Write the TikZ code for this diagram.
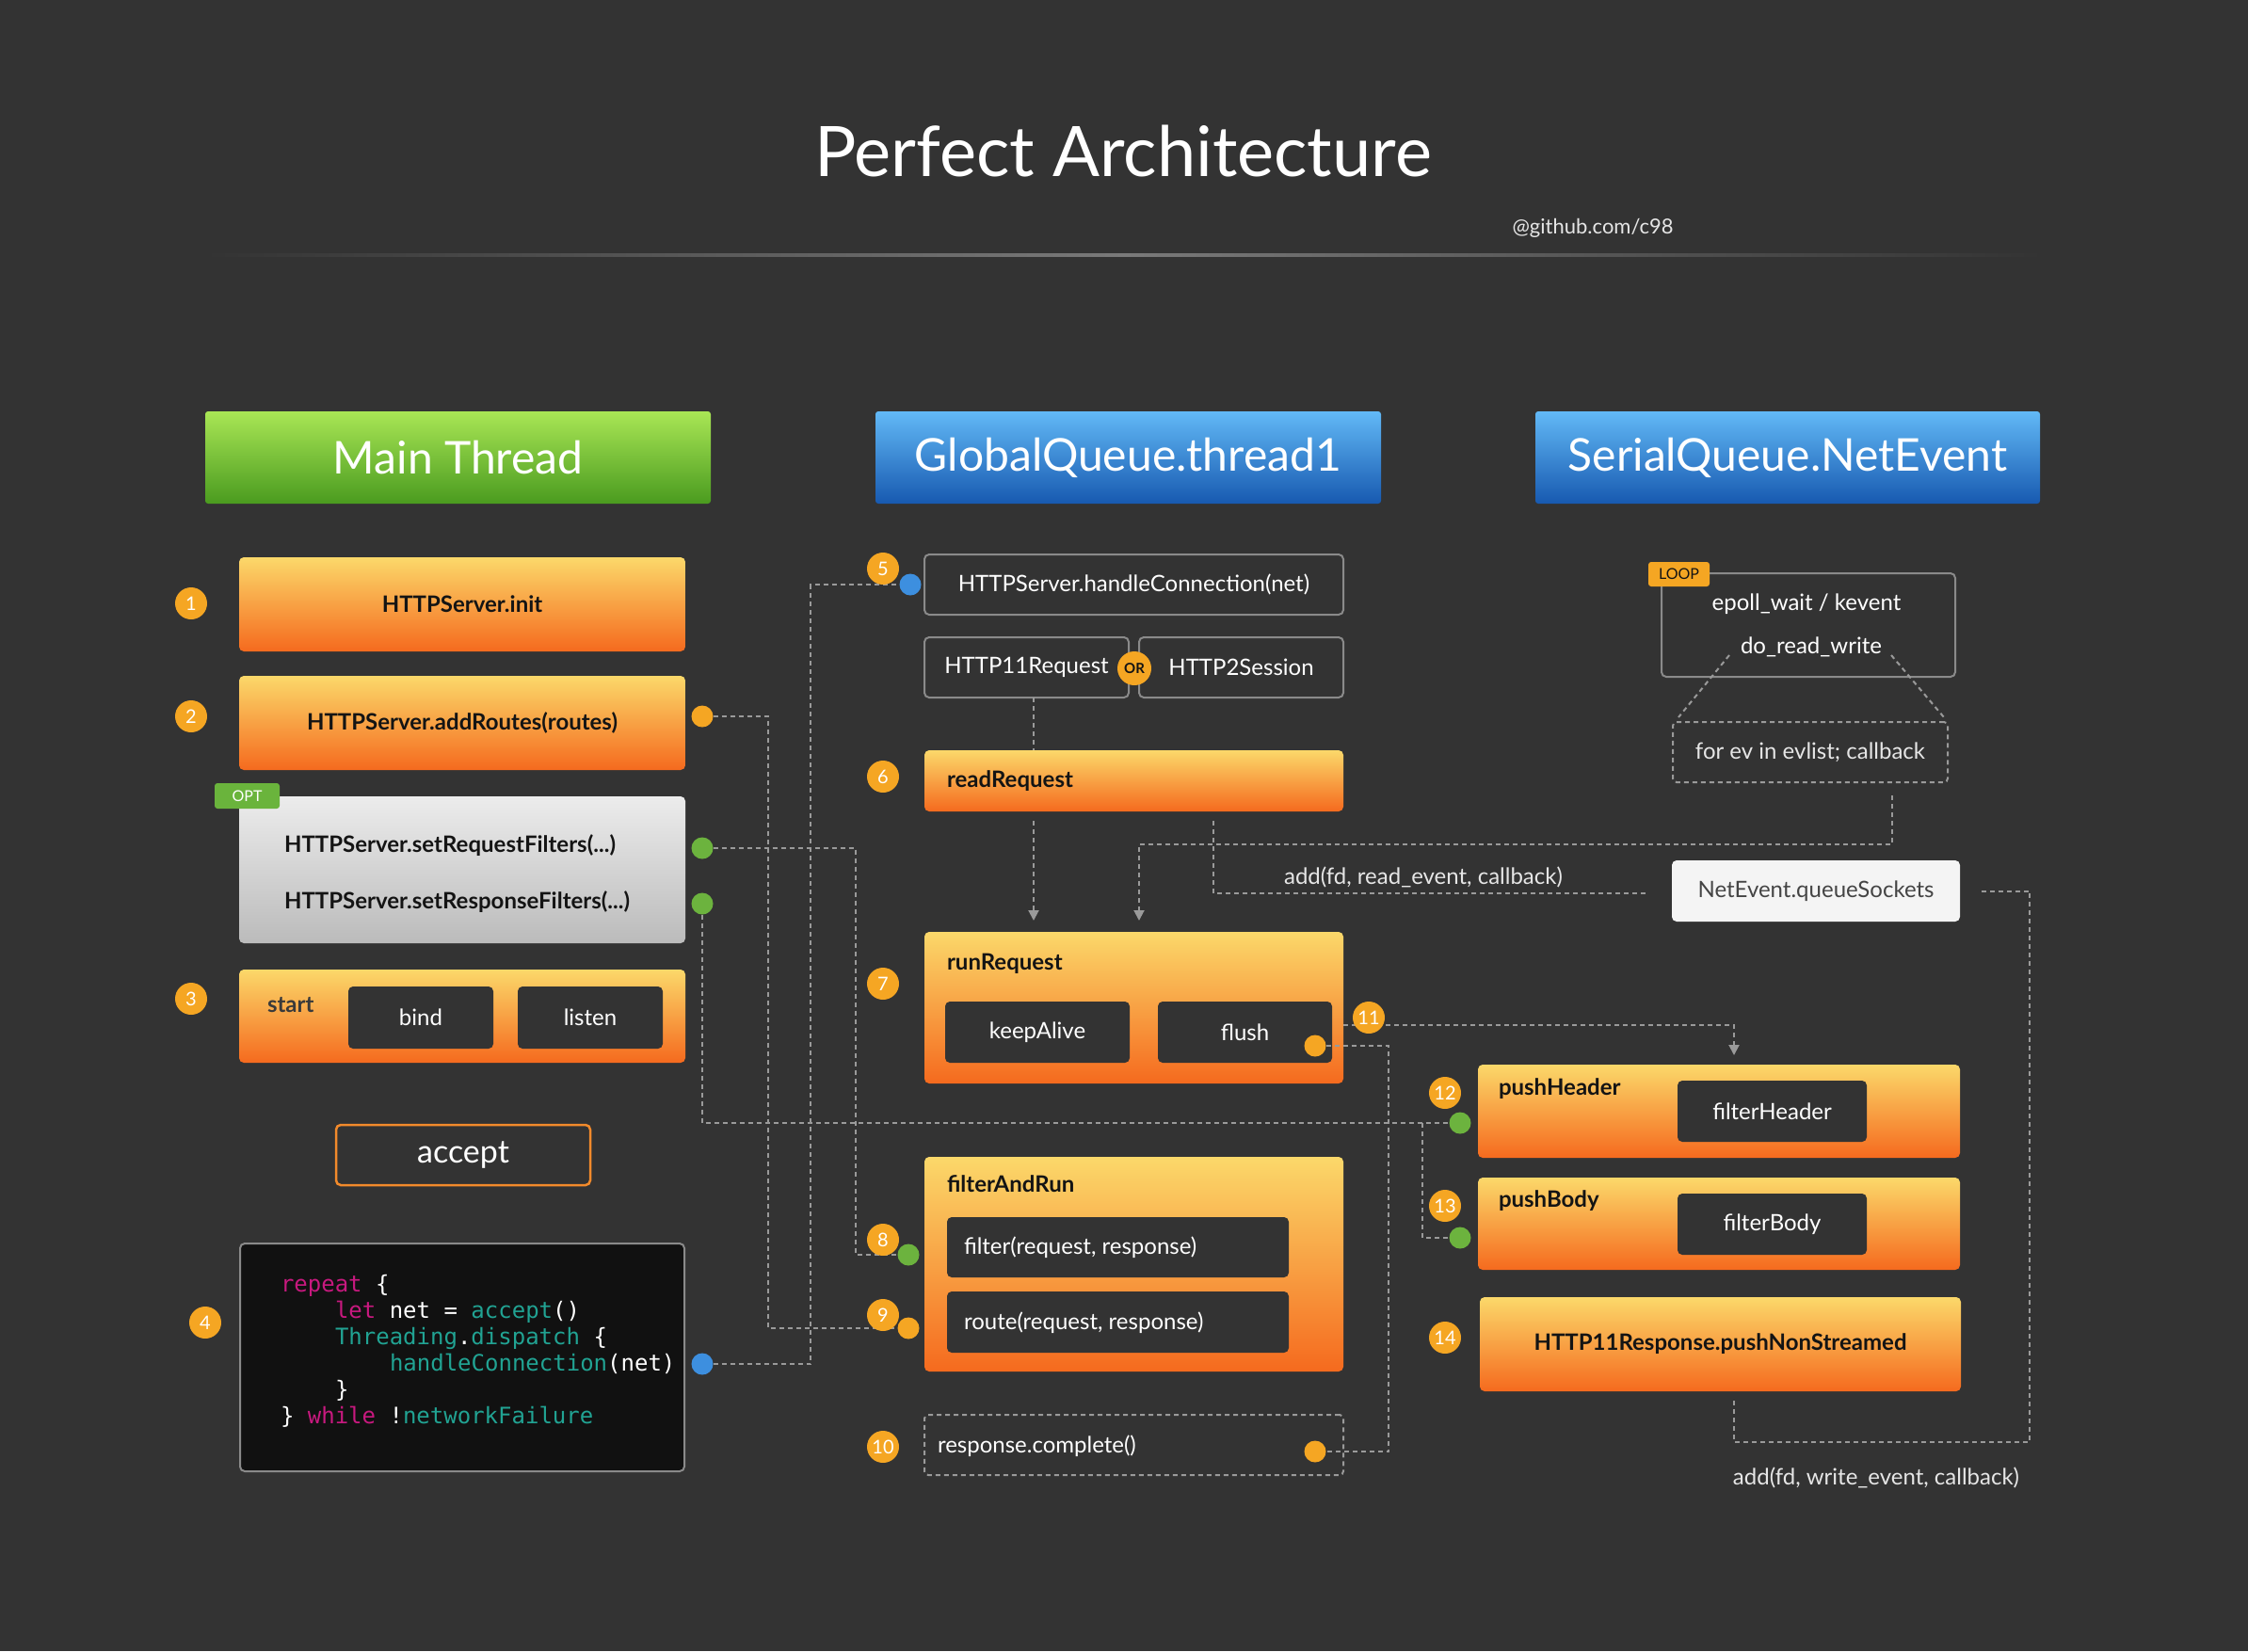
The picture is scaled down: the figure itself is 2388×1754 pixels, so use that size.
\documentclass[tikz,border=0pt]{standalone}
\usepackage{fontspec}
\setmainfont{Lato}
\newfontfamily\codefont{DejaVu Sans Mono}
\usetikzlibrary{arrows.meta,fit}
\definecolor{bgc}{HTML}{333333}
\definecolor{oTop}{HTML}{FBD86A}
\definecolor{oBot}{HTML}{F56A1E}
\definecolor{gTop}{HTML}{ECECEC}
\definecolor{gBot}{HTML}{BBBBBB}
\definecolor{hgTop}{HTML}{A9E655}
\definecolor{hgBot}{HTML}{4A9B1F}
\definecolor{hbTop}{HTML}{62B9F6}
\definecolor{hbBot}{HTML}{1759B0}
\definecolor{bdg}{HTML}{F5A623}
\definecolor{optg}{HTML}{6AB43C}
\definecolor{dsh}{HTML}{9A9A9A}
\definecolor{outl}{HTML}{8A8A8A}
\definecolor{txtd}{HTML}{141414}
\definecolor{startc}{HTML}{3A3A3A}
\definecolor{acc}{HTML}{F28A2B}
\definecolor{codebg}{HTML}{111111}
\definecolor{kw}{HTML}{C8197F}
\definecolor{fn}{HTML}{21A393}
\definecolor{qfill}{HTML}{F4F4F4}
\definecolor{qtxt}{HTML}{444444}
\definecolor{dblue}{HTML}{3D8FDF}
\definecolor{dgreen}{HTML}{6CB33E}
\definecolor{lightt}{HTML}{E6E6E6}
\definecolor{lineg}{HTML}{7A7A7A}
\pgfdeclarelayer{bgl}
\pgfdeclarelayer{lines}
\pgfdeclarelayer{top}
\pgfsetlayers{bgl,main,lines,top}
\newcommand\fsz[1]{\fontsize{#1}{#1}\selectfont}
\tikzset{
  every node/.style={inner sep=0pt, outer sep=0pt},
  obox/.style={rounded corners=5pt, top color=oTop, bottom color=oBot, draw=none},
  dbox/.style={rounded corners=5pt, fill=bgc},
  gbox/.style={rounded corners=5pt, draw=outl, line width=2pt},
  hdrg/.style={rounded corners=3pt, top color=hgTop, bottom color=hgBot},
  hdrb/.style={rounded corners=3pt, top color=hbTop, bottom color=hbBot},
  htxt/.style={font=\fsz{48}, text=white},
  badge/.style={circle, fill=bdg, minimum size=34pt, text=white, font=\fsz{20}},
  dot/.style={circle, minimum size=23pt},
  dl/.style={draw=dsh, line width=2pt, dash pattern=on 5pt off 4pt},
  arr/.style={-{Triangle[width=11pt,length=11pt]}},
  lbl/.style={font=\fsz{24}, text=white},
  blbl/.style={font=\fsz{24}\bfseries, text=txtd},
  code/.style={font=\codefont\fsz{24}, text=white, anchor=base west},
}
\begin{document}
\begin{tikzpicture}[x=1pt,y=-1pt]
\useasboundingbox (0,0) rectangle (2388,1754);
\begin{pgfonlayer}{bgl}
\fill[bgc] (0,0) rectangle (2388,1754);
\end{pgfonlayer}

% title
\node[font=\fsz{74}, text=white] (title) at (1193,161) {Perfect Architecture};
\node[font=\fsz{22}, text=lightt] (gh) at (1692,242) {@github.com/c98};
\shade[left color=bgc, right color=bgc, middle color=lineg] (218,269.5) rectangle (2170,272.5);

% headers
\node[hdrg, fit={(218,437)(755,535)}] (hMain) {};
\node[htxt] (hMainT) at (hMain.center) {Main Thread};
\node[hdrb, fit={(930,437)(1467,535)}] (hGlobal) {};
\node[htxt] (hGlobalT) at (hGlobal.center) {GlobalQueue.thread1};
\node[hdrb, fit={(1631,437)(2167,535)}] (hSerial) {};
\node[htxt] (hSerialT) at (hSerial.center) {SerialQueue.NetEvent};

% main thread column
\node[obox, fit={(254,592)(728,692)}] (n1) {};
\node[blbl] (n1t) at (n1.center) {HTTPServer.init};
\node[obox, fit={(254,718)(728,818)}] (n2) {};
\node[blbl] (n2t) at (n2.center) {HTTPServer.addRoutes(routes)};
\node[rounded corners=5pt, top color=gTop, bottom color=gBot, fit={(254,846)(728,1002)}] (nf) {};
\node[blbl, anchor=west] (treq) at (302,898) {HTTPServer.setRequestFilters(...)};
\node[blbl, anchor=west] (tresp) at (302,958) {HTTPServer.setResponseFilters(...)};
\node[fill=optg, rounded corners=3pt, fit={(228,832)(297,859)}] (opt) {};
\node[font=\fsz{16}, text=white] (optt) at (opt.center) {OPT};
\node[obox, fit={(254,1030)(728,1129)}] (n3) {};
\node[blbl, text=startc, anchor=west] (tstart) at (284,1068) {start};
\node[dbox, fit={(370,1048)(524,1114)}] (bind) {};
\node[lbl] (bindt) at (bind.center) {bind};
\node[dbox, fit={(550,1048)(704,1114)}] (listen) {};
\node[lbl] (listent) at (listen.center) {listen};
\node[draw=acc, line width=2.5pt, fill=bgc, rounded corners=5pt, fit={(357,1195)(627,1259)}] (acc) {};
\node[font=\fsz{34}, text=white] (acct) at (acc.center) {accept};
\node[fill=codebg, draw=outl, line width=2pt, rounded corners=5pt, fit={(255,1321)(727,1563)}] (code) {};
\node[code] (c1) at (298,1372) {\textcolor{kw}{repeat} \{};
\node[code] (c2) at (356,1400) {\textcolor{kw}{let} net = \textcolor{fn}{accept}()};
\node[code] (c3) at (356,1428) {\textcolor{fn}{Threading}.\textcolor{fn}{dispatch} \{};
\node[code] (c4) at (414,1456) {\textcolor{fn}{handleConnection}(net)};
\node[code] (c5) at (356,1484) {\}};
\node[code] (c6) at (298,1512) {\} \textcolor{kw}{while} !\textcolor{fn}{networkFailure}};

% global queue column
\node[gbox, fit={(982,589)(1427,653)}] (n5) {};
\node[lbl] (n5t) at (n5.center) {HTTPServer.handleConnection(net)};
\node[gbox, fit={(982,677)(1199,741)}] (n6a) {};
\node[lbl] (n6at) at (n6a.center) {HTTP11Request};
\node[gbox, fit={(1210,677)(1427,741)}] (n6b) {};
\node[lbl] (n6bt) at (n6b.center) {HTTP2Session};
\node[obox, fit={(982,797)(1427,862)}] (n7) {};
\node[blbl, anchor=west] (t7) at (1006,830) {readRequest};
\node[obox, fit={(982,990)(1427,1151)}] (n8) {};
\node[blbl, anchor=west] (t8) at (1006,1024) {runRequest};
\node[dbox, fit={(1004,1064)(1200,1129)}] (keep) {};
\node[lbl] (keept) at (keep.center) {keepAlive};
\node[dbox, fit={(1230,1064)(1415,1129)}] (flush) {};
\node[lbl] (flusht) at (flush.center) {flush};
\node[obox, fit={(982,1229)(1427,1457)}] (n9) {};
\node[blbl, anchor=west] (t9) at (1006,1258) {filterAndRun};
\node[dbox, fit={(1006,1293)(1369,1357)}] (filt) {};
\node[lbl, anchor=west] (tfilt) at (1024,1325) {filter(request, response)};
\node[dbox, fit={(1006,1372)(1369,1437)}] (route) {};
\node[lbl, anchor=west] (troute) at (1024,1405) {route(request, response)};
\node[draw=dsh, line width=2pt, dash pattern=on 5pt off 4pt, rounded corners=4pt, fit={(982,1503)(1427,1567)}] (n10) {};
\node[lbl, anchor=west] (t10) at (996,1536) {response.complete()};

% serial queue column
\node[gbox, fit={(1765,609)(2077,719)}] (loop) {};
\node[lbl] (ep) at (1919,642) {epoll\_wait / kevent};
\node[lbl] (drw) at (1924,687) {do\_read\_write};
\node[fill=bdg, rounded corners=3pt, fit={(1751,597)(1816,623)}] (looptag) {};
\node[font=\fsz{16}, text=txtd] (looptagt) at (looptag.center) {LOOP};
\node[draw=dsh, line width=2pt, dash pattern=on 5pt off 4pt, rounded corners=4pt, fit={(1777,767)(2069,831)}] (forev) {};
\node[font=\fsz{24}, text=lightt] (forevt) at (forev.center) {for ev in evlist; callback};
\node[fill=qfill, rounded corners=5pt, fit={(1776,914)(2082,979)}] (queue) {};
\node[font=\fsz{24}, text=qtxt] (queuet) at (queue.center) {NetEvent.queueSockets};
\node[font=\fsz{24}, text=lightt] (addr) at (1512,932) {add(fd, read\_event, callback)};
\node[obox, fit={(1570,1131)(2082,1230)}] (ph) {};
\node[blbl, anchor=west] (tph) at (1592,1157) {pushHeader};
\node[dbox, fit={(1782,1148)(1983,1213)}] (fh) {};
\node[lbl] (fht) at (fh.center) {filterHeader};
\node[obox, fit={(1570,1251)(2082,1349)}] (pb) {};
\node[blbl, anchor=west] (tpb) at (1592,1276) {pushBody};
\node[dbox, fit={(1782,1268)(1983,1333)}] (fb) {};
\node[lbl] (fbt) at (fb.center) {filterBody};
\node[obox, fit={(1572,1378)(2083,1478)}] (resp) {};
\node[blbl] (respt) at (resp.center) {HTTP11Response.pushNonStreamed};
\node[font=\fsz{24}, text=lightt] (addw) at (1993,1570) {add(fd, write\_event, callback)};

% badges and dots
\begin{pgfonlayer}{top}
\node[badge] (b1) at (203,641) {1};
\node[badge] (b2) at (203,761) {2};
\node[badge] (b3) at (203,1061) {3};
\node[badge] (b4) at (218,1405) {4};
\node[badge] (b5) at (938,604) {5};
\node[badge] (b6) at (938,825) {6};
\node[badge] (b7) at (938,1045) {7};
\node[badge] (b8) at (938,1317) {8};
\node[badge] (b9) at (938,1397) {9};
\node[badge] (b10) at (938,1537) {10};
\node[badge] (b11) at (1454,1081) {11};
\node[badge] (b12) at (1535,1161) {12};
\node[badge] (b13) at (1535,1281) {13};
\node[badge] (b14) at (1535,1421) {14};
\node[circle, fill=bdg, minimum size=36pt, font=\fsz{15}\bfseries, text=txtd] (or) at (1205,710) {OR};
\node[dot, fill=bdg] (d2) at (746,761) {};
\node[dot, fill=dgreen] (d3) at (746,901) {};
\node[dot, fill=dgreen] (d4) at (746,960) {};
\node[dot, fill=dblue] (d5) at (746,1449) {};
\node[dot, fill=dblue] (d6) at (967,621) {};
\node[dot, fill=bdg] (d7) at (1397,1111) {};
\node[dot, fill=dgreen] (d8) at (965,1333) {};
\node[dot, fill=bdg] (d9) at (965,1411) {};
\node[dot, fill=bdg] (d10) at (1397,1542) {};
\node[dot, fill=dgreen] (d12) at (1551,1193) {};
\node[dot, fill=dgreen] (d13) at (1551,1315) {};
\end{pgfonlayer}

% connectors
\begin{pgfonlayer}{lines}
\coordinate (cx1) at (861,0);
\coordinate (cx2) at (816,0);
\coordinate (cx3) at (909,0);
\coordinate (bx) at (1511,0);
\coordinate (ax) at (1098,0);
\coordinate (ax2) at (1210,897);
\coordinate (fx) at (2010,897);
\coordinate (rx) at (1289,949);
\coordinate (hy) at (1842,1089);
\coordinate (vx) at (1475,0);
\coordinate (wx) at (1842,1532);
\coordinate (ex) at (2156,1532);
\coordinate (sl1) at (1837,696);
\coordinate (sl1e) at (1783,762);
\coordinate (sl2) at (2009,696);
\coordinate (sl2e) at (2065,762);
\draw[dl] (d5.east) -- (d5 -| cx1) -- (cx1 |- d6) -- (d6.west);
\draw[dl] (d2.east) -- (d2 -| cx2) -- (cx2 |- d9) -- (d9.west);
\draw[dl] (d3.east) -- (d3 -| cx3) -- (cx3 |- d8) -- (d8.west);
\draw[dl] (d4.south) -- (d4 |- d12) -- (d12.west);
\draw[dl] (bx |- d12) -- (bx |- d13) -- (d13.west);
\draw[dl] (n6a.south -| ax) -- (n7.north -| ax);
\draw[dl, arr, shorten <=10pt, shorten >=12pt] (n7.south -| ax) -- (n8.north -| ax);
\draw[dl, arr, shorten <=14pt, shorten >=12pt] (forev.south -| fx) -- (fx) -- (ax2) -- (n8.north -| ax2);
\draw[dl, shorten <=10pt, shorten >=25pt] (n7.south -| rx) -- (rx) -- (queue.west |- rx);
\draw[dl, arr, shorten >=10pt] (n8.east |- hy) -- (hy) -- (ph.north -| hy);
\draw[dl] (d7.east) -- (d7 -| vx) -- (vx |- d10) -- (d10.east);
\draw[dl, shorten <=10pt, shorten >=19pt] (resp.south -| wx) -- (wx) -- (ex) -- (ex |- queue.east) -- (queue.east);
\draw[dl] (sl1) -- (sl1e);
\draw[dl] (sl2) -- (sl2e);
\end{pgfonlayer}
\end{tikzpicture}
\end{document}
